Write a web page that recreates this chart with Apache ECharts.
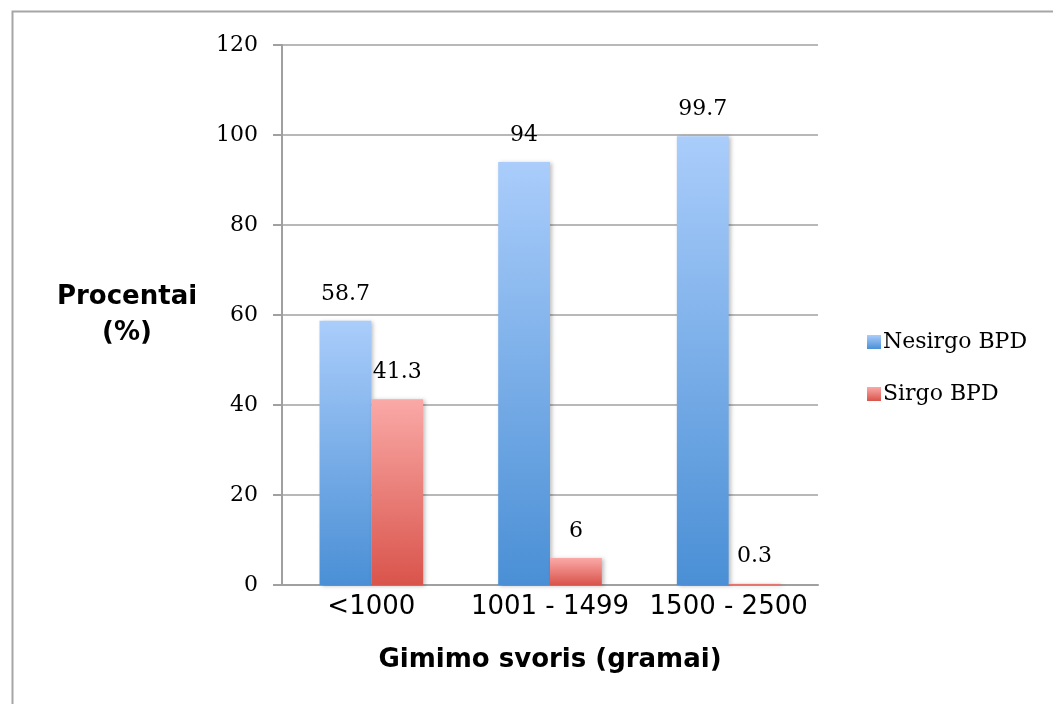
<!DOCTYPE html>
<html>
<head>
<meta charset="utf-8">
<script src="https://cdn.jsdelivr.net/npm/echarts@6/dist/echarts.min.js"></script>
<style>
  html, body { margin: 0; padding: 0; background: #fff; }
  #chart { width: 1053px; height: 704px; }
</style>
</head>
<body>
<div id="chart"></div>
<script>
// Weight groups and the share of infants with / without BPD (%)
const categories = ['<1000', '1001 - 1499', '1500 - 2500'];
const nesirgoBPD = [58.7, 94, 99.7];
const sirgoBPD = [41.3, 6, 0.3];
const yTicks = { min: 0, max: 120, interval: 20 };

const serif = 'DejaVu Serif';
const sans = 'DejaVu Sans';

function vGrad(top, bottom) {
  return new echarts.graphic.LinearGradient(0, 0, 0, 1, [
    { offset: 0, color: top },
    { offset: 1, color: bottom }
  ]);
}

const labelStyle = {
  show: true,
  position: 'top',
  distance: 16,
  fontFamily: serif,
  fontSize: 22,
  color: '#000'
};

const chart = echarts.init(document.getElementById('chart'));
chart.setOption({
  animation: false,
  backgroundColor: '#fff',
  graphic: [{
    type: 'rect',
    left: 10, top: 9,
    shape: { width: 1200, height: 900 },
    style: { fill: 'none', stroke: '#a6a6a6', lineWidth: 2 },
    silent: true
  }],
  grid: { left: 282, right: 235, top: 45, bottom: 119 },
  legend: {
    orient: 'vertical',
    left: 862,
    top: 326,
    itemWidth: 14,
    itemHeight: 14,
    itemGap: 30,
    icon: 'rect',
    textStyle: { fontFamily: serif, fontSize: 22, color: '#000', padding: [0, 0, 0, -3] },
    data: ['Nesirgo BPD', 'Sirgo BPD']
  },
  xAxis: {
    type: 'category',
    data: categories,
    name: 'Gimimo svoris (gramai)',
    nameLocation: 'middle',
    nameGap: 75,
    nameTextStyle: { fontFamily: sans, fontWeight: 'bold', fontSize: 26, color: '#000', verticalAlign: 'middle' },
    axisLine: { lineStyle: { color: '#a0a0a0', width: 2 } },
    axisTick: { show: false },
    axisLabel: { fontFamily: sans, fontSize: 26, color: '#000', margin: 9, interval: 0, hideOverlap: false }
  },
  yAxis: {
    type: 'value',
    min: yTicks.min,
    max: yTicks.max,
    interval: yTicks.interval,
    name: 'Procentai\n(%)',
    nameLocation: 'middle',
    nameRotate: 0,
    nameGap: 155,
    nameTextStyle: { fontFamily: sans, fontWeight: 'bold', fontSize: 26, color: '#000', align: 'center', verticalAlign: 'middle', lineHeight: 36 },
    axisLine: { show: true, lineStyle: { color: '#a0a0a0', width: 2 } },
    axisTick: { show: true, length: 9, lineStyle: { color: '#a0a0a0', width: 2 } },
    splitLine: { lineStyle: { color: '#a0a0a0', width: 1.5 } },
    axisLabel: { fontFamily: serif, fontSize: 22, color: '#000', margin: 24 }
  },
  series: [
    {
      name: 'Nesirgo BPD',
      type: 'bar',
      data: nesirgoBPD,
      barGap: '0%',
      barCategoryGap: '42%',
      itemStyle: {
        color: vGrad('#aacdfb', '#4a8fd5'),
        shadowColor: 'rgba(0,0,0,0.25)',
        shadowBlur: 4,
        shadowOffsetX: 2,
        shadowOffsetY: 1
      },
      label: labelStyle
    },
    {
      name: 'Sirgo BPD',
      type: 'bar',
      data: sirgoBPD,
      itemStyle: {
        color: vGrad('#faa9a7', '#d9544b'),
        shadowColor: 'rgba(0,0,0,0.25)',
        shadowBlur: 4,
        shadowOffsetX: 2,
        shadowOffsetY: 1
      },
      label: labelStyle
    }
  ]
});
</script>
</body>
</html>
